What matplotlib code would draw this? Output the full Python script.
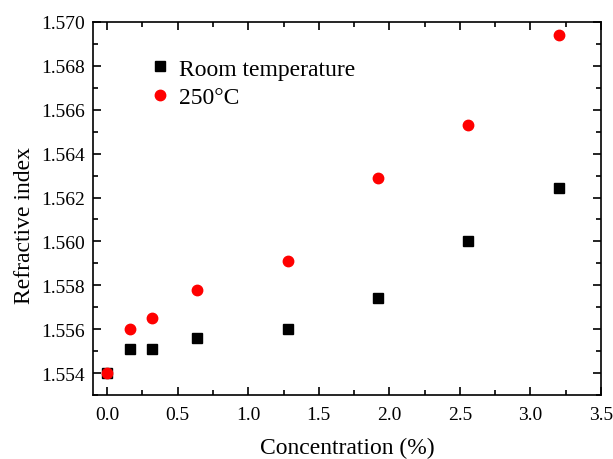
import matplotlib
matplotlib.use('Agg')
import matplotlib.pyplot as plt
from matplotlib.ticker import MultipleLocator

plt.rcParams['font.family'] = 'Liberation Serif'
plt.rcParams['mathtext.fontset'] = 'stix'

# concentration (%) and refractive index
conc = [0.0, 0.16, 0.32, 0.64, 1.28, 1.92, 2.56, 3.2]
n_room = [1.5540, 1.5551, 1.5551, 1.55562, 1.5560, 1.55742, 1.5600, 1.56243]
n_250 = [1.5540, 1.5560, 1.5565, 1.5578, 1.55911, 1.5629, 1.5653, 1.56942]

fig = plt.figure(figsize=(6.13, 4.6), dpi=100)
ax = fig.add_axes([93/613, 64/460, 508/613, 373/460])

ax.plot(conc, n_room, 's', color='black', markersize=6.5, label='Room temperature')
ax.plot(conc, n_250, 'o', color='red', markersize=7.5, label='250°C')

ax.set_xlim(-0.1, 3.5)
ax.set_ylim(1.553, 1.570)
ax.xaxis.set_major_locator(MultipleLocator(0.5))
ax.xaxis.set_minor_locator(MultipleLocator(0.25))
ax.yaxis.set_major_locator(MultipleLocator(0.002))
ax.yaxis.set_minor_locator(MultipleLocator(0.001))
ax.yaxis.set_major_formatter(matplotlib.ticker.FormatStrFormatter('%.3f'))
ax.xaxis.set_major_formatter(matplotlib.ticker.FormatStrFormatter('%.1f'))
ax.tick_params(which='both', direction='in', top=True, right=True, labelsize=14, width=1.2)
ax.tick_params(which='major', length=6)
ax.tick_params(which='minor', length=3.5)
ax.tick_params(axis='x', pad=8)
ax.tick_params(axis='y', pad=6)
for s in ax.spines.values():
    s.set_linewidth(1.2)

ax.set_xlabel('Concentration (%)', fontsize=17, labelpad=10)
ax.set_ylabel('Refractive index', fontsize=17, labelpad=4.5, y=0.456)

ax.legend(loc='upper left', bbox_to_anchor=(0.062, 0.96), frameon=False, fontsize=17,
          handletextpad=0.2, labelspacing=0.3, handlelength=1.2)

plt.savefig('out.png', dpi=100)
